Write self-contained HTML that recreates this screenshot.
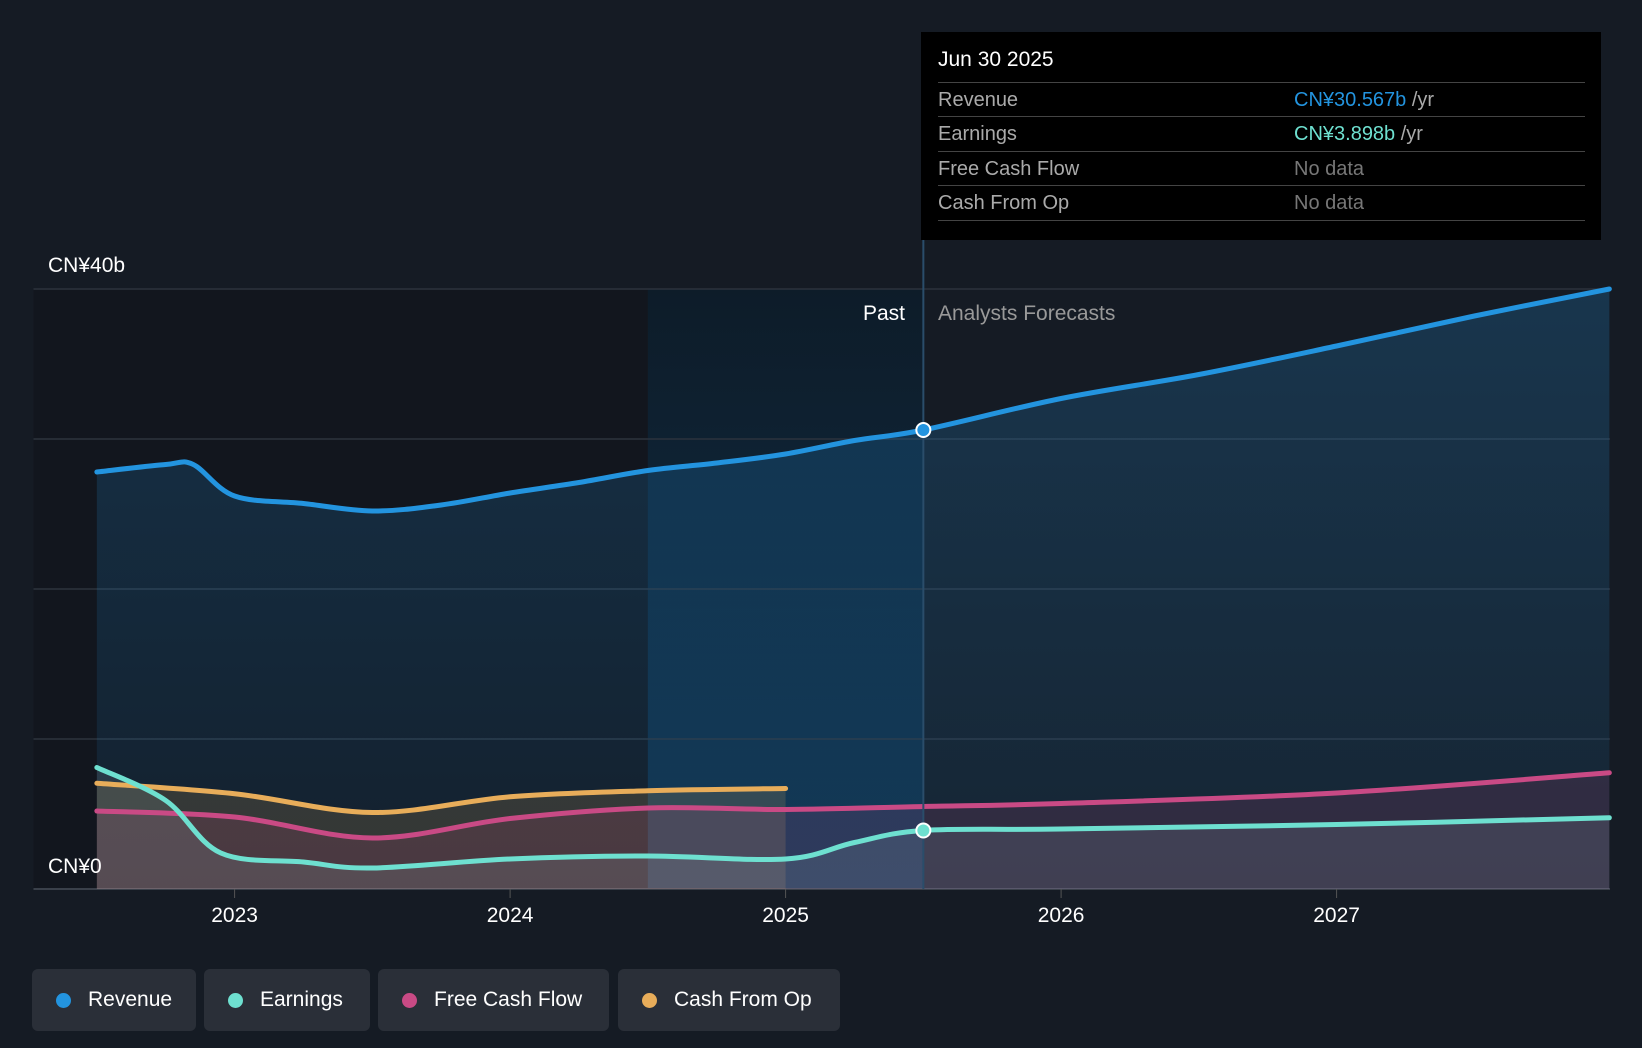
<!DOCTYPE html>
<html><head><meta charset="utf-8"><style>
body{margin:0;background:#151b24;font-family:"Liberation Sans",sans-serif;}
#wrap{position:relative;width:1642px;height:1048px;overflow:hidden;background:#151b24}
.leg{position:absolute;top:969px;height:62px;background:#2a2f38;border-radius:6px;color:#fff;font-size:21px;display:flex;align-items:center;box-sizing:border-box;padding-left:24px}
.leg i{display:inline-block;width:15px;height:15px;border-radius:50%;margin-right:17px}
#tip{position:absolute;left:921px;top:32px;width:680px;height:208px;background:#000;color:#fff;font-size:20px}
.row{position:absolute;left:17px;width:647px;border-top:1px solid #444;height:34px;line-height:34px;color:#aaa}
.row span{position:absolute;left:356px}
</style></head><body><div id="wrap">
<svg id="svg" width="1642" height="1048" style="position:absolute;left:0;top:0">
<defs>
<linearGradient id="gp" x1="0" y1="0" x2="0" y2="1"><stop offset="0" stop-color="#0d1c29"/><stop offset="1" stop-color="#11304a"/></linearGradient>
<linearGradient id="gr" x1="0" y1="0" x2="0" y2="1"><stop offset="0" stop-color="#2394df" stop-opacity="0.22"/><stop offset="1" stop-color="#2394df" stop-opacity="0.08"/></linearGradient>
</defs>
</svg>
<div id="tip">
<div style="position:absolute;left:17px;top:16px;font-size:21px">Jun 30 2025</div>
<div class="row" style="top:50px">Revenue<span><b style="font-weight:normal;color:#2394df">CN¥30.567b</b> /yr</span></div>
<div class="row" style="top:84px">Earnings<span><b style="font-weight:normal;color:#6ee0d0">CN¥3.898b</b> /yr</span></div>
<div class="row" style="top:119px">Free Cash Flow<span style="color:#777">No data</span></div>
<div class="row" style="top:153px;border-bottom:1px solid #444">Cash From Op<span style="color:#777">No data</span></div>
</div>
<div class="leg" style="left:32px;width:164px"><i style="background:#2394df"></i>Revenue</div>
<div class="leg" style="left:204px;width:166px"><i style="background:#6ee0d0"></i>Earnings</div>
<div class="leg" style="left:378px;width:231px"><i style="background:#c94a85"></i>Free Cash Flow</div>
<div class="leg" style="left:618px;width:222px"><i style="background:#e8ad5a"></i>Cash From Op</div>
</div>
<script>
const years=[2023,2024,2025,2026,2027];
const yTickLabels=["CN¥0","CN¥40b"];
const revX=[2022.5,2022.75,2022.85,2023,2023.25,2023.5,2023.75,2024,2024.25,2024.5,2024.75,2025,2025.25,2025.5,2026,2026.5,2027,2027.5,2027.99];
const revY=[27.8,28.3,28.3,26.2,25.7,25.2,25.6,26.4,27.1,27.9,28.4,29.0,29.9,30.6,32.7,34.3,36.2,38.2,40.0];
const earnX=[2022.5,2022.75,2022.95,2023.25,2023.5,2024,2024.5,2025,2025.25,2025.5,2026,2027,2027.99];
const earnY=[8.1,5.9,2.4,1.8,1.4,2.0,2.2,2.0,3.1,3.9,4.0,4.3,4.75];
const fcfX=[2022.5,2023,2023.5,2024,2024.5,2025,2025.5,2026,2027,2027.99];
const fcfY=[5.2,4.8,3.4,4.7,5.4,5.3,5.5,5.7,6.4,7.75];
const cfoX=[2022.5,2023,2023.5,2024,2024.5,2025];
const cfoY=[7.05,6.35,5.1,6.15,6.55,6.7];
const NS="http://www.w3.org/2000/svg",svg=document.getElementById('svg');
const L=33.5,R=1610,Y0=889,Y40=289;
const X=t=>234.6+(t-2023)*275.5, Y=v=>Y0+(Y40-Y0)*v/40;
function el(tag,a,p){const e=document.createElementNS(NS,tag);for(const k in a)e.setAttribute(k,a[k]);(p||svg).appendChild(e);return e;}
function path(xs,ys){const p=xs.map((x,i)=>[X(x),Y(ys[i])]);let d=`M${p[0][0]},${p[0][1]}`;
for(let i=0;i<p.length-1;i++){const a=p[i-1]||p[i],b=p[i],c=p[i+1],e=p[i+2]||c;
d+=`C${b[0]+(c[0]-a[0])/6},${b[1]+(c[1]-a[1])/6} ${c[0]-(e[0]-b[0])/6},${c[1]-(e[1]-b[1])/6} ${c[0]},${c[1]}`;}return d;}
function area(xs,ys){return path(xs,ys)+`L${X(xs[xs.length-1])},${Y0}L${X(xs[0])},${Y0}Z`;}
let r=el('rect',{x:L,y:Y40,width:X(2024.5)-L,height:Y0-Y40,fill:'#12161e'});
r=el('rect',{x:X(2024.5),y:Y40,width:X(2025.5)-X(2024.5),height:Y0-Y40,fill:'url(#gp)'});
for(let v=0;v<=40;v+=10){const g=el('line',{x1:L,x2:R,y1:Y(v),y2:Y(v),stroke:v==0?'#3a404a':'#2c333d','stroke-width':v==0?2:1.5});}
const series=[["revenue",revX,revY,'#2394df','url(#gr)'],["cfo",cfoX,cfoY,'#e8ad5a','rgba(232,173,90,0.16)'],["fcf",fcfX,fcfY,'#c94a85','rgba(201,74,133,0.15)'],["earnings",earnX,earnY,'#6ee0d0','rgba(150,170,180,0.17)']];
series.forEach(s=>{let a=el('path',{d:area(s[1],s[2]),fill:s[4]});});
series.forEach(s=>{let a=el('path',{d:path(s[1],s[2]),fill:'none',stroke:s[3],'stroke-width':5,'stroke-linecap':'round'});});
let ln=el('line',{x1:X(2025.5),x2:X(2025.5),y1:240,y2:Y0,stroke:'#2a4d6a','stroke-width':2});
[[revY[13],'#2394df'],[earnY[9],'#6ee0d0']].forEach(([v,c])=>{let d=el('circle',{cx:X(2025.5),cy:Y(v),r:7,fill:c,stroke:'#fff','stroke-width':2});});
function txt(x,y,s,fill,anchor,name){const t=el('text',{x:x,y:y,fill:fill,'font-size':21,'text-anchor':anchor||'start','font-family':'Liberation Sans, sans-serif'});t.textContent=s;}
years.forEach(yr=>{let t=el('line',{x1:X(yr),x2:X(yr),y1:Y0,y2:Y0+9,stroke:'#555'});txt(X(yr),922,String(yr),'#fff','middle','x-tick-label');});
txt(48,873,yTickLabels[0],'#fff','start','y-label-zero');
txt(48,272,yTickLabels[1],'#fff','start','y-label-top');
txt(905,320,'Past','#fff','end','past-label');
txt(938,320,'Analysts Forecasts','#999','start','forecast-label');
</script></body></html>
